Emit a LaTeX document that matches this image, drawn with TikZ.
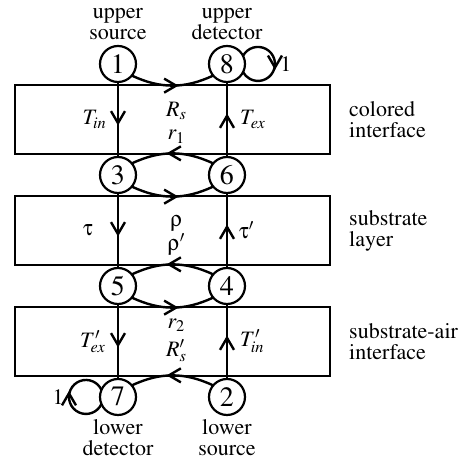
\documentclass[tikz,border=0pt]{standalone}
\usepackage[T1]{fontenc}
\usepackage{mathptmx}
\usepackage[Symbol]{upgreek}
\usetikzlibrary{positioning,calc,arrows.meta,decorations.markings}

\begin{document}
\begin{tikzpicture}[
    node distance=37.5pt and 36.5pt,
    every node/.style={font=\fontsize{11}{10.5}\selectfont},
    state/.style={circle, draw, line width=1.1pt, minimum size=18pt, inner sep=0pt, outer sep=0pt, font=\fontsize{14}{14}\selectfont},
    layer/.style={rectangle, draw, line width=0.8pt, minimum width=157.5pt, minimum height=34.5pt},
    side/.style={align=left, inner sep=0pt},
    tag/.style={align=center, inner sep=0pt},
    lab/.style={inner sep=0pt},
    flow/.style={line width=1.2pt, postaction={decorate},
        decoration={markings, mark=at position 0.5 with {\arrow[xshift=3pt]{Straight Barb[length=6pt,width=7pt]}}}}
]

\useasboundingbox (-59pt,-197.5pt) rectangle (175pt,32pt);

% Scattering states (left column down, right column up)
\node[state] (c1) at (0,0) {1};
\node[state, right=of c1] (c8) {8};
\node[state, below=of c1] (c3) {3};
\node[state, below=of c8] (c6) {6};
\node[state, below=of c3] (c5) {5};
\node[state, below=of c6] (c4) {4};
\node[state, below=of c5] (c7) {7};
\node[state, below=of c4] (c2) {2};

% Layers
\node[layer] (colored) at ($(c1)!0.5!(c6)$) {};
\node[layer] (substrate) at ($(c3)!0.5!(c4)$) {};
\node[layer] (air) at ($(c5)!0.5!(c2)$) {};

\node[side, right=9pt of colored] {colored\\interface};
\node[side, right=9pt of substrate] {substrate\\layer};
\node[side, right=9pt of air] {substrate-air\\interface};

% Sources and detectors
\node[tag, above=3pt of c1] (usrc) {upper\\source};
\node[tag, above=3pt of c8] (udet) {upper\\detector};
\node[tag, below=2pt of c7] (ldet) {lower\\detector};
\node[tag, below=2pt of c2] (lsrc) {lower\\source};

% Transmissions
\draw[flow] (c1) -- node[lab, left=5pt] {$T_{in}$} (c3);
\draw[flow] (c3) -- node[lab, left=12pt] {$\uptau$} (c5);
\draw[flow] (c5) -- node[lab, left=5.5pt] {$T'_{ex}$} (c7);
\draw[flow] (c2) -- node[lab, right=6pt] {$T'_{in}$} (c4);
\draw[flow] (c4) -- node[lab, right=5.5pt] {$\uptau'$} (c6);
\draw[flow] (c6) -- node[lab, right=6pt] {$T_{ex}$} (c8);

% Reflections
\draw[flow] (c1.-40) to[out=-25, in=-155] node[lab, below=7.5pt, xshift=2pt] {$R_s$} (c8.-140);
\draw[flow] (c6.140) to[out=155, in=25] node[lab, above=4.5pt, xshift=2pt] {$r_1$} (c3.40);
\draw[flow] (c3.-40) to[out=-25, in=-155] node[lab, below=9pt, xshift=2pt] {$\uprho$} (c6.-140);
\draw[flow] (c4.140) to[out=155, in=25] node[lab, above=4pt, xshift=2pt] {$\uprho'$} (c5.40);
\draw[flow] (c5.-40) to[out=-25, in=-155] node[lab, below=5pt, xshift=2pt] {$r_2$} (c4.-140);
\draw[flow] (c2.140) to[out=155, in=25] node[lab, above=6pt, xshift=2pt] {$R'_s$} (c7.40);

% Detector loops
\draw[flow] (c8.27) arc[start angle=151.5, end angle=-151.5, radius=8.5pt];
\draw[flow] (c7.203) arc[start angle=335.4, end angle=24.6, radius=8.5pt];
\node[lab, right=17.5pt of c8] (one8) {1};
\node[lab, left=18pt of c7] (one7) {1};

\end{tikzpicture}
\end{document}
